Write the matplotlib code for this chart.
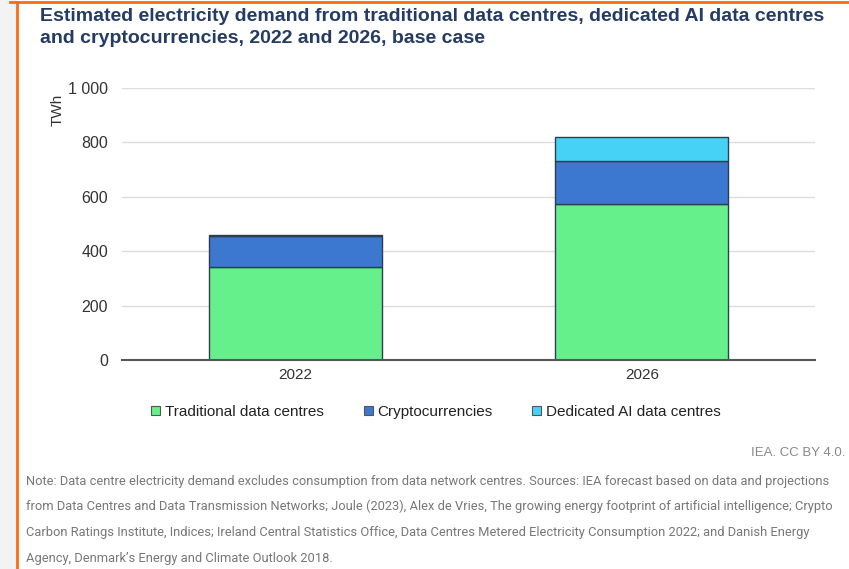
import matplotlib.pyplot as plt
import numpy as np
from matplotlib.lines import Line2D
from matplotlib.patches import Rectangle

years = ['2022', '2026']
traditional = [343, 574]
crypto = [114, 158]
dedicated_ai = [3, 89]

series_names = ['Traditional data centres', 'Cryptocurrencies', 'Dedicated AI data centres']
colors = ['#66f08c', '#3c78d0', '#45d2f6']
yticks = [0, 200, 400, 600, 800, 1000]
ytick_labels = ['0', '200', '400', '600', '800', '1 000']

title = ('Estimated electricity demand from traditional data centres, dedicated AI data centres\n'
         'and cryptocurrencies, 2022 and 2026, base case')
note_lines = [
    'Note: Data centre electricity demand excludes consumption from data network centres. Sources: IEA forecast based on data and projections',
    'from Data Centres and Data Transmission Networks; Joule (2023), Alex de Vries, The growing energy footprint of artificial intelligence; Crypto',
    'Carbon Ratings Institute, Indices; Ireland Central Statistics Office, Data Centres Metered Electricity Consumption 2022; and Danish Energy',
    'Agency, Denmark\u2019s Energy and Climate Outlook 2018.',
]

plt.rcParams['font.family'] = ['Liberation Sans', 'DejaVu Sans']

W, H = 849, 569
fig = plt.figure(figsize=(W / 100, H / 100), dpi=100)

# page frame: grey strip + orange border lines
fig.patches.append(Rectangle((0, 0), 16 / W, 1, transform=fig.transFigure,
                             facecolor='#f3f3f3', edgecolor='none', zorder=0))
fig.add_artist(Line2D([17 / W, 17 / W], [0, 1 - 2 / H], transform=fig.transFigure,
                      color='#ff6a13', lw=2))
fig.add_artist(Line2D([10 / W, 1], [1 - 2 / H, 1 - 2 / H], transform=fig.transFigure,
                      color='#ff6a13', lw=2))

ax = fig.add_axes([122 / W, 1 - 360 / H, (815 - 122) / W, (360 - 88) / H])
x = np.arange(len(years))
bottom = np.zeros(len(years))
for vals, c, name in zip([traditional, crypto, dedicated_ai], colors, series_names):
    ax.bar(x, vals, 0.5, bottom=bottom, color=c, edgecolor='#2d3e50', linewidth=1,
           label=name, zorder=3)
    bottom += np.array(vals)

ax.set_xlim(-0.5, 1.5)
ax.set_ylim(0, 1000)
ax.set_xticks(x)
ax.set_xticklabels(years, fontsize=11, color='#333333')
ax.set_yticks(yticks)
ax.set_yticklabels(ytick_labels, fontsize=11.5, color='#333333')
ax.tick_params(length=0)
ax.tick_params(axis='y', pad=10)
ax.tick_params(axis='x', pad=6)
ax.grid(axis='y', color='#dddddd', lw=1, zorder=0)
for s in ['top', 'right', 'left']:
    ax.spines[s].set_visible(False)
ax.spines['bottom'].set_color('#555555')
ax.spines['bottom'].set_linewidth(1.5)
ax.spines['bottom'].set_zorder(4)

fig.text(58 / W, 1 - 110 / H, 'TWh', rotation=90, ha='center', va='center',
         fontsize=11, color='#333333')

fig.text(40 / W, 1 - 8 / H, title, ha='left', va='top', fontsize=14, fontweight='bold',
         color='#243b63', linespacing=1.35)

handles = [Rectangle((0, 0), 1, 1, facecolor=c, edgecolor='#555555', lw=0.8) for c in colors]
fig.legend(handles, series_names, loc='center', bbox_to_anchor=(436 / W, 1 - 412 / H),
           ncol=3, frameon=False, fontsize=11, handlelength=0.6, handleheight=0.6,
           handletextpad=0.3, columnspacing=2.6, labelcolor='#222222')

fig.text(845 / W, 1 - 453 / H, 'IEA. CC BY 4.0.', ha='right', va='center',
         fontsize=9.5, color='#888888')

for i, line in enumerate(note_lines):
    fig.text(26 / W, 1 - (481 + 25.7 * i) / H, line, ha='left', va='center',
             fontsize=9.3, color='#777777',
             family=['Liberation Sans Narrow', 'Roboto', 'DejaVu Sans'])

fig.savefig('out.png', dpi=100)
